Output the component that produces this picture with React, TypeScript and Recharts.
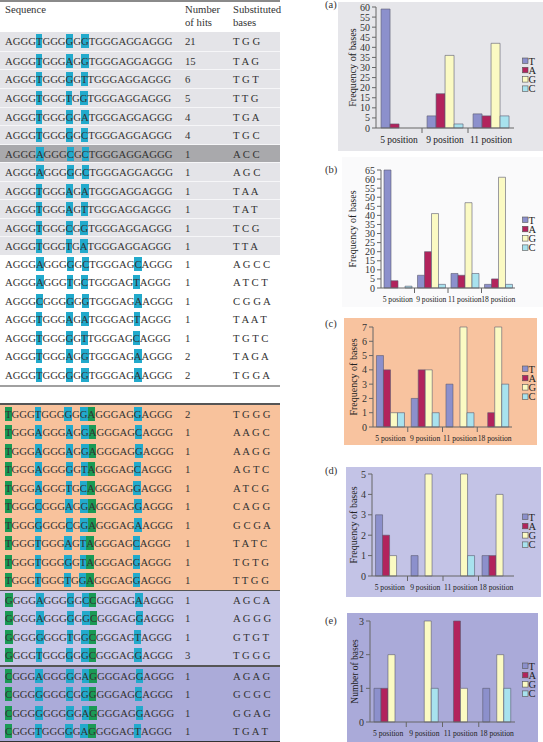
import { BarChart, Bar, XAxis, YAxis, Legend } from 'recharts'

// ---- table: templates with '_' where the substituted bases go ----
const grayTemplate = 'AGGG_GGG_G_TGGGAGGAGGG'
const graySubs = ['TGG', 'TAG', 'TGT', 'TTG', 'TGA', 'TGC', 'ACC', 'AGC', 'TAA', 'TAT', 'TCG', 'TTA']
const grayHits = [21, 15, 6, 5, 4, 4, 1, 1, 1, 1, 1, 1]

const whiteTemplate = 'AGGG_GGG_G_TGGGAG_AGGG'
const whiteSubs = ['AGCC', 'ATCT', 'CGGA', 'TAAT', 'TGTC', 'TAGA', 'TGGA']
const whiteHits = [1, 1, 1, 1, 1, 2, 2]

const orangeTemplate = 'TGGG_GGG_G_AGGGAG_AGGG'
const orangeSubs = ['TGGG', 'AAGC', 'AAGG', 'AGTC', 'ATCG', 'CAGG', 'GCGA', 'TATC', 'TGTG', 'TTGG']
const orangeHits = [2, 1, 1, 1, 1, 1, 1, 1, 1, 1]

const lilacTemplate = 'GGGG_GGG_G_CGGGAG_AGGG'
const lilacSubs = ['AGCA', 'AGGG', 'GTGT', 'TGGG']
const lilacHits = [1, 1, 1, 3]

const violetTemplate = 'CGGG_GGG_G_GGGGAG_AGGG'
const violetSubs = ['AGAG', 'GCGC', 'GGAG', 'TGAT']
const violetHits = [1, 1, 1, 1]

// ---- charts ----
const bases = ['T', 'A', 'G', 'C']
const threePositions = ['5 position', '9 position', '11 position']
const fourPositions = ['5 position', '9 position', '11 position', '18 position']

const aT = [59, 6, 7]
const aA = [2, 17, 6]
const aG = [0, 36, 42]
const aC = [0, 2, 6]

const bT = [65, 7, 8, 2]
const bA = [4, 20, 7, 5]
const bG = [0, 41, 47, 61]
const bC = [1, 2, 8, 2]

const cT = [5, 2, 3, 0]
const cA = [4, 4, 0, 1]
const cG = [1, 4, 7, 7]
const cC = [1, 1, 1, 3]

const dT = [3, 1, 0, 1]
const dA = [2, 0, 0, 1]
const dG = [1, 5, 5, 4]
const dC = [0, 0, 1, 0]

const eT = [1, 0, 0, 1]
const eA = [1, 0, 3, 0]
const eG = [2, 3, 1, 2]
const eC = [0, 1, 0, 1]

const aTicks = [0, 5, 10, 15, 20, 25, 30, 35, 40, 45, 50, 55, 60]
const bTicks = [0, 5, 10, 15, 20, 25, 30, 35, 40, 45, 50, 55, 60, 65]
const cTicks = [0, 1, 2, 3, 4, 5, 6, 7]
const dTicks = [0, 1, 2, 3, 4, 5]
const eTicks = [0, 1, 2, 3]

const colors: Record<string, string> = { T: '#8c90cc', A: '#b2235c', G: '#fbfac3', C: '#a8e2ee' }
const FONT = '"Liberation Serif", "DejaVu Serif", serif'
const ROW_H = 18.55

const build = (pos: string[], t: number[], a: number[], g: number[], c: number[]) =>
  pos.map((p, i) => ({ position: p, T: t[i], A: a[i], G: g[i], C: c[i] }))

const fillTemplate = (tpl: string, subs: string) => {
  let k = 0
  return tpl.split('').map(ch => (ch === '_' ? { ch: subs[k++], hl: true } : { ch, hl: false }))
}

function SeqRows({ top, template, subs, hits, bg, green, darkRow, separators }: any) {
  return (
    <div style={{ position: 'absolute', left: 0, top, width: 280, background: bg }}>
      {subs.map((s: string, i: number) => {
        const chars = fillTemplate(template, s)
        return (
          <div
            key={i}
            style={{
              position: 'relative', height: ROW_H, lineHeight: ROW_H + 'px',
              background: i === darkRow ? '#a9a9ac' : undefined,
              borderTop: separators && i > 0 ? '1px solid #f6f6f8' : undefined,
              boxSizing: 'border-box',
            }}
          >
            <span style={{ position: 'absolute', left: 5, whiteSpace: 'pre' }}>
              {chars.map((c, j) => {
                const isGreen = green && (j === 0 || j === 11)
                const back = isGreen ? '#1a9a55' : c.hl ? '#22aacc' : undefined
                return (
                  <span key={j} style={{ background: back, display: 'inline-block', lineHeight: '14px' }}>{c.ch}</span>
                )
              })}
            </span>
            <span style={{ position: 'absolute', left: 185 }}>{hits[i]}</span>
            <span style={{ position: 'absolute', left: 233, whiteSpace: 'pre' }}>{s.split('').join(' ')}</span>
          </div>
        )
      })}
    </div>
  )
}

const CatTick = ({ x, y, payload, index, band, fs }: any) => (
  <g>
    {index > 0 && <line x1={x - band / 2} x2={x - band / 2} y1={y - 8} y2={y - 3} stroke="#666" />}
    <text x={x} y={y} dy={fs * 0.78} textAnchor="middle" fontSize={fs} fill="#222">{payload.value}</text>
  </g>
)

const LegendBox = () => (
  <svg width={22} height={40}>
    {bases.map((b, i) => (
      <g key={b}>
        <rect x={0.5} y={i * 9.3 + 2} width={5.5} height={5.5} fill={colors[b]} stroke="#555" strokeWidth={0.6} />
        <text x={6.5} y={i * 9.3 + 8.5} fontSize={10.5} fill="#222">{b}</text>
      </g>
    ))}
  </svg>
)

function ChartPanel({ tag, tagY, rows, ticks, yLabel, yLabelFs, top, height, panel, x0, x1, yTop, yBot, labelX, catFs, legendY, gap }: any) {
  const W = 2 * (x0 - labelX)
  const band = (x1 - x0) / rows.length
  return (
    <>
      <div style={{ position: 'absolute', left: panel[0], top: panel[1], width: panel[2] - panel[0], height: panel[3] - panel[1], background: panel[4] }} />
      <div style={{ position: 'absolute', left: 325, top: tagY - 7, fontSize: 10.5, color: '#333' }}>{tag}</div>
      <div style={{ position: 'absolute', left: 290, top }}>
        <BarChart
          width={253}
          height={height}
          data={rows}
          margin={{ top: yTop - top, right: 543 - x1, bottom: height - (yBot - top) - 20, left: x0 - 290 - W }}
          barGap={0}
          barCategoryGap={gap}
        >
          <XAxis
            dataKey="position"
            height={20}
            tickSize={5}
            tickMargin={3}
            tickLine={false}
            axisLine={{ stroke: '#666' }}
            interval={0}
            tick={(p: any) => <CatTick {...p} band={band} fs={catFs} />}
          />
          <YAxis
            width={W}
            ticks={ticks}
            domain={[0, ticks[ticks.length - 1]]}
            interval={0}
            tickSize={4}
            tickMargin={2}
            axisLine={{ stroke: '#666' }}
            tickLine={{ stroke: '#666' }}
            tick={{ fontSize: 10, fill: '#333' }}
            label={{ value: yLabel, angle: -90, position: 'center', fontSize: yLabelFs, fill: '#222' }}
          />
          <Legend
            layout="vertical"
            align="center"
            verticalAlign="middle"
            wrapperStyle={{ left: 522 - 290, top: legendY - top - 5, width: 22, height: 40 }}
            content={() => <LegendBox />}
          />
          {bases.map(b => (
            <Bar key={b} dataKey={b} fill={colors[b]} stroke="#5a5a70" strokeWidth={0.6} isAnimationActive={false} />
          ))}
        </BarChart>
      </div>
    </>
  )
}

const line = (y: number, h: number, c: string) => (
  <div style={{ position: 'absolute', left: 0, top: y, width: 280, height: h, background: c }} />
)

export default function App() {
  return (
    <div style={{ position: 'absolute', left: 0, top: 0, width: 543, height: 742, overflow: 'hidden', background: '#fff', fontFamily: FONT, fontSize: 10.7, color: '#333' }}>
      {/* header */}
      {line(0, 2, '#8a8a8a')}
      <div style={{ position: 'absolute', left: 5, top: 3, lineHeight: '13px' }}>Sequence</div>
      <div style={{ position: 'absolute', left: 185, top: 3, lineHeight: '13px' }}>Number<br />of hits</div>
      <div style={{ position: 'absolute', left: 233, top: 3, lineHeight: '13px' }}>Substituted<br />bases</div>

      <SeqRows top={32.4} template={grayTemplate} subs={graySubs} hits={grayHits} bg="#e4e4e8" darkRow={6} separators />
      <SeqRows top={254.7} template={whiteTemplate} subs={whiteSubs} hits={whiteHits} bg="#fff" />
      {line(384.5, 2, '#a0a0a0')}
      {line(402.5, 2, '#555')}
      <SeqRows top={404.5} template={orangeTemplate} subs={orangeSubs} hits={orangeHits} bg="#f8c29c" green />
      <SeqRows top={590.7} template={lilacTemplate} subs={lilacSubs} hits={lilacHits} bg="#c7c7e7" green />
      <SeqRows top={666.7} template={violetTemplate} subs={violetSubs} hits={violetHits} bg="#ababd9" green />
      {line(589.8, 1.5, '#555')}
      {line(665, 1.5, '#555')}
      {line(740.5, 1.5, '#333')}

      <ChartPanel tag="(a)" tagY={6} rows={build(threePositions, aT, aA, aG, aC)} ticks={aTicks} yLabel="Frequency of bases" yLabelFs={10.2}
        top={0} height={152} panel={[338, 2, 543, 151, '#e6e6ea']} x0={376} x1={514} yTop={7} yBot={128} labelX={352} catFs={9.5} legendY={61} gap="11%" />
      <ChartPanel tag="(b)" tagY={171} rows={build(fourPositions, bT, bA, bG, bC)} ticks={bTicks} yLabel="Frequency of bases" yLabelFs={10}
        top={155} height={155} panel={[342, 157, 543, 307, '#fafafb']} x0={381} x1={515} yTop={170} yBot={288} labelX={352} catFs={7.6} legendY={220} gap="9%" />
      <ChartPanel tag="(c)" tagY={325} rows={build(fourPositions, cT, cA, cG, cC)} ticks={cTicks} yLabel="Frequency of bases" yLabelFs={10}
        top={310} height={139} panel={[344, 318, 537, 445, '#f8c39f']} x0={373} x1={512} yTop={327} yBot={427} labelX={353} catFs={7.6} legendY={369} gap="10%" />
      <ChartPanel tag="(d)" tagY={472} rows={build(fourPositions, dT, dA, dG, dC)} ticks={dTicks} yLabel="Frequency of bases" yLabelFs={10}
        top={455} height={143} panel={[346, 467, 541, 597, '#c3c3e6']} x0={372} x1={514} yTop={474} yBot={576} labelX={353} catFs={7.6} legendY={517} gap="10%" />
      <ChartPanel tag="(e)" tagY={622} rows={build(fourPositions, eT, eA, eG, eC)} ticks={eTicks} yLabel="Number of bases" yLabelFs={9.5}
        top={600} height={144} panel={[347, 613, 538, 742, '#aaaad9']} x0={370} x1={515} yTop={621} yBot={722} labelX={355} catFs={7.6} legendY={666} gap="11%" />
    </div>
  )
}
